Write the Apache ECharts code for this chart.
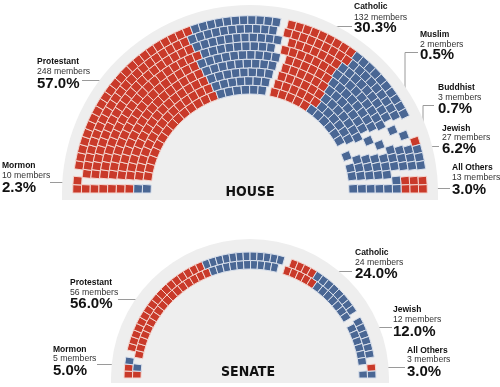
<!DOCTYPE html>
<html>
<head>
<meta charset="utf-8">
<script src="https://cdn.jsdelivr.net/npm/echarts@6.0.0/dist/echarts.min.js"></script>
<style>
html,body{margin:0;padding:0;background:#ffffff;}
#chart{width:500px;height:387px;}
</style>
</head>
<body>
<div id="chart"></div>
<script>
// ---------- DATA ----------
const houseGroups = ['Mormon', 'Protestant', 'Catholic', 'Muslim', 'Buddhist', 'Jewish', 'All Others'];
const houseMembers = [10, 248, 132, 2, 3, 27, 13];
const houseRepublicans = [8, 166, 61, 0, 0, 1, 6];
const housePercent = ['2.3%', '57.0%', '30.3%', '0.5%', '0.7%', '6.2%', '3.0%'];

const senateGroups = ['Mormon', 'Protestant', 'Catholic', 'Jewish', 'All Others'];
const senateMembers = [5, 56, 24, 12, 3];
const senateRepublicans = [3, 34, 9, 0, 1];
const senatePercent = ['5.0%', '56.0%', '24.0%', '12.0%', '3.0%'];

// ---------- STYLE / LAYOUT ----------
const RED = '#c93a2a', BLUE = '#4a6794', BG = '#eeeeee';
const FONT = "'Liberation Sans', Arial, sans-serif";
const TITLE_FONT = "'Liberation Sans Narrow', 'DejaVu Sans Condensed', 'Liberation Sans', sans-serif";

// label positions: [x, yName, yMembers, yPercent] and leader lines
const houseLabelPos = [
  [2, 166, 176, 188], [37, 62, 72, 83.5], [354, 7, 17.5, 28], [420, 34.5, 44.5, 55],
  [438, 88, 98, 109], [442, 129, 138, 148.5], [452, 168, 178, 190]
];
const houseLeaders = [
  [[50, 182], [76, 182]],
  [[82, 80], [110, 80]],
  [[352, 26], [335, 26], [335, 34]],
  [[418, 52], [405, 52], [405, 98]],
  [[434, 105], [423, 105], [423, 130], [414, 130]],
  [[413, 146], [439, 146]],
  [[421, 188], [450, 188]]
];
const senateLabelPos = [
  [53, 349.5, 359, 371], [70, 283, 292.5, 304], [355, 253, 263, 274],
  [393, 310, 320, 331.7], [407, 350.5, 360, 371.7]
];
const senateLeaders = [
  [[97, 364], [123, 364]],
  [[118, 299], [143, 299]],
  [[318, 271], [352, 271]],
  [[370, 327], [392, 327]],
  [[377, 367], [405, 367]]
];

// seat layout: rows proportional to radius, groups in angular order with gaps
function layoutSeats(members, reps, rows, rInner, pitch, gapDeg) {
  const total = members.reduce((a, b) => a + b, 0);
  const radii = [];
  for (let i = 0; i < rows; i++) radii.push(rInner + pitch * (i + 0.5));
  const sumR = radii.reduce((a, b) => a + b, 0);
  const raw = radii.map(r => total * r / sumR);
  const n = raw.map(v => Math.floor(v));
  let rem = total - n.reduce((a, b) => a + b, 0);
  raw.map((v, i) => [v - Math.floor(v), i]).sort((a, b) => b[0] - a[0])
     .slice(0, rem).forEach(p => { n[p[1]]++; });
  const usable = 180 - gapDeg * (members.length - 1);
  const seats = [];
  radii.forEach((r, i) => {
    for (let k = 0; k < n[i]; k++) seats.push({ r: r, t: (k + 0.5) / n[i], w: 1 / n[i] });
  });
  seats.sort((a, b) => (a.t - b.t) || (b.r - a.r));
  let idx = 0;
  const out = [];
  members.forEach((m, g) => {
    let grp = seats.slice(idx, idx + m);
    idx += m;
    // small blocks in deep chambers fill from the outer rows inward
    if (rows > 4 && m <= 2 * rows) grp = grp.slice().sort((a, b) => (b.r - a.r) || (a.t - b.t));
    grp.forEach((s, j) => {
      const a = s.t * usable + g * gapDeg;
      const ha = s.w * usable / 2;
      out.push([s.r, a, pitch / 2, ha, j < reps[g] ? 1 : 0, g]);
    });
  });
  return out;
}

const houseSeats = layoutSeats(houseMembers, houseRepublicans, 9, 99, 8.7, 2.4);
const senateSeats = layoutSeats(senateMembers, senateRepublicans, 2, 109, 8.5, 3.2);

function renderSeat(params, api) {
  const r = api.value(0), a = api.value(1), hr = api.value(2), ha = api.value(3);
  const pts = [[r - hr, a - ha], [r + hr, a - ha], [r + hr, a + ha], [r - hr, a + ha]]
    .map(p => api.coord(p));
  const red = api.value(4);
  return {
    type: 'polygon', shape: { points: pts },
    style: { fill: red ? RED : BLUE, stroke: red ? '#f4d6d0' : '#d9e0ec', lineWidth: 1 }
  };
}
function renderBg(params, api) {
  const R = api.value(0), ext = api.value(1);
  const c = api.coord([0, 0]);
  const e = api.coord([R, 0]);
  const rad = Math.hypot(e[0] - c[0], e[1] - c[1]);
  return {
    type: 'group', children: [
      { type: 'sector', shape: { cx: c[0], cy: c[1], r: rad, r0: 0, startAngle: Math.PI, endAngle: 2 * Math.PI }, style: { fill: BG } },
      { type: 'rect', shape: { x: c[0] - rad, y: c[1] - 0.5, width: 2 * rad, height: ext + 0.5 }, style: { fill: BG } }
    ]
  };
}

function labelElements(groups, members, pct, pos, leaders) {
  const els = [];
  groups.forEach((name, i) => {
    const p = pos[i];
    els.push({ type: 'text', x: p[0], y: p[1], style: { text: name, font: 'bold 8.5px ' + FONT, fill: '#111', textVerticalAlign: 'middle', verticalAlign: 'middle' } });
    els.push({ type: 'text', x: p[0], y: p[2], style: { text: members[i] + ' members', font: '8.7px ' + FONT, fill: '#333', textVerticalAlign: 'middle', verticalAlign: 'middle' } });
    els.push({ type: 'text', x: p[0], y: p[3], style: { text: pct[i], font: 'bold 15px ' + FONT, fill: '#111', textVerticalAlign: 'middle', verticalAlign: 'middle' } });
    els.push({ type: 'polyline', shape: { points: leaders[i].map(q => [q[0], q[1] + 0.5]) }, style: { stroke: '#9a9a9a', lineWidth: 1, fill: null } });
  });
  return els;
}

const chart = echarts.init(document.getElementById('chart'), null, { renderer: 'canvas' });
chart.setOption({
  animation: false,
  backgroundColor: '#ffffff',
  polar: [
    { center: [250, 193], radius: 188 },
    { center: [250, 378], radius: 139 }
  ],
  radiusAxis: [
    { polarIndex: 0, type: 'value', min: 0, max: 188, show: false },
    { polarIndex: 1, type: 'value', min: 0, max: 139, show: false }
  ],
  angleAxis: [
    { polarIndex: 0, type: 'value', min: 0, max: 360, startAngle: 180, clockwise: true, show: false },
    { polarIndex: 1, type: 'value', min: 0, max: 360, startAngle: 180, clockwise: true, show: false }
  ],
  series: [
    { type: 'custom', coordinateSystem: 'polar', polarIndex: 0, z: 1, silent: true, renderItem: renderBg, data: [[188, 7]] },
    { type: 'custom', coordinateSystem: 'polar', polarIndex: 1, z: 1, silent: true, renderItem: renderBg, data: [[139, 5]] },
    { type: 'custom', coordinateSystem: 'polar', polarIndex: 0, z: 2, silent: true, renderItem: renderSeat, data: houseSeats },
    { type: 'custom', coordinateSystem: 'polar', polarIndex: 1, z: 2, silent: true, renderItem: renderSeat, data: senateSeats }
  ],
  graphic: [].concat(
    labelElements(houseGroups, houseMembers, housePercent, houseLabelPos, houseLeaders),
    labelElements(senateGroups, senateMembers, senatePercent, senateLabelPos, senateLeaders),
    [
      { type: 'text', x: 250, y: 192, z: 10, style: { text: 'HOUSE', font: 'bold 14px ' + TITLE_FONT, fill: '#111', textAlign: 'center', align: 'center', textVerticalAlign: 'middle', verticalAlign: 'middle' } },
      { type: 'text', x: 248, y: 372, z: 10, style: { text: 'SENATE', font: 'bold 14px ' + TITLE_FONT, fill: '#111', textAlign: 'center', align: 'center', textVerticalAlign: 'middle', verticalAlign: 'middle' } }
    ]
  )
});
</script>
</body>
</html>
